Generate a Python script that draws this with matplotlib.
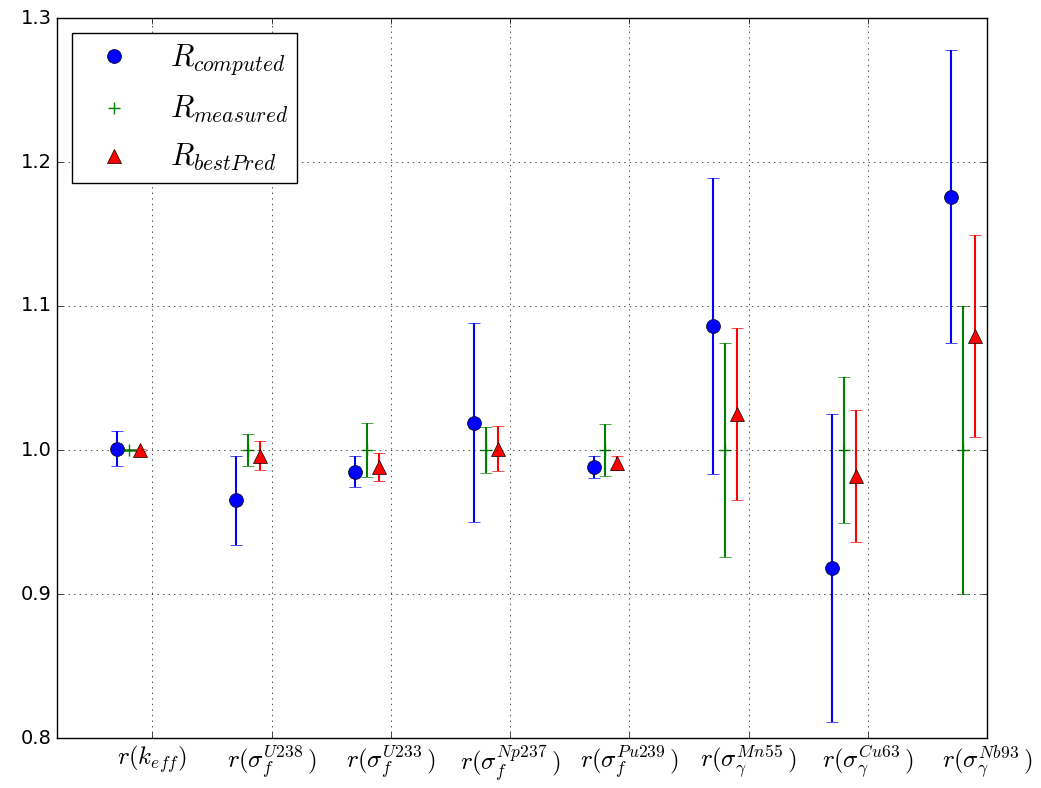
import numpy as np
import matplotlib
matplotlib.use("Agg")
import matplotlib.pyplot as plt

plt.style.use("classic")
plt.rcParams["mathtext.fontset"] = "cm"

# ratios per quantity
labels = [r"$r(k_{eff})$",
          r"$r(\sigma_f^{U238}\,)$",
          r"$r(\sigma_f^{U233}\,)$",
          r"$r(\sigma_f^{Np237}\,)$",
          r"$r(\sigma_f^{Pu239}\,)$",
          r"$r(\sigma_\gamma^{Mn55}\,)$",
          r"$r(\sigma_\gamma^{Cu63}\,)$",
          r"$r(\sigma_\gamma^{Nb93}\,)$"]

r_computed = [1.001, 0.965, 0.985, 1.019, 0.988, 1.086, 0.918, 1.176]
err_computed = [0.012, 0.031, 0.0105, 0.069, 0.0075, 0.103, 0.107, 0.102]

r_measured = [1.0, 1.0, 1.0, 1.0, 1.0, 1.0, 1.0, 1.0]
err_measured = [0.001, 0.011, 0.019, 0.016, 0.018, 0.074, 0.051, 0.100]

r_pred = [1.0, 0.996, 0.988, 1.001, 0.991, 1.025, 0.982, 1.079]
err_pred = [0.0005, 0.010, 0.0097, 0.0155, 0.005, 0.060, 0.046, 0.070]

x = np.arange(1, len(labels) + 1)

fig = plt.figure(figsize=(10.41, 7.88), dpi=100, facecolor="white")
ax = fig.add_axes([57/1041., 50/788., 930/1041., 720/788.])

ax.errorbar(x - 0.3, r_computed, yerr=err_computed, fmt="none", ecolor="b",
            elinewidth=1.5, capsize=4.5)
ax.errorbar(x - 0.2, r_measured, yerr=err_measured, fmt="none", ecolor="g",
            elinewidth=1.5, capsize=4.5)
ax.errorbar(x - 0.1, r_pred, yerr=err_pred, fmt="none", ecolor="r",
            elinewidth=1.5, capsize=4.5)

ax.plot(x - 0.3, r_computed, "o", color="b", mec="k", ms=10, label=r"$R_{computed}$")
ax.plot(x - 0.2, r_measured, "+", color="g", mew=1, ms=8, label=r"$R_{measured}$")
ax.plot(x - 0.1, r_pred, "^", color="r", mec="k", ms=10, label=r"$R_{bestPred}$")

ax.set_xlim(0.2, 8)
ax.set_ylim(0.8, 1.3)
ax.set_xticks(x)
ax.set_xticklabels(labels, fontsize=18)
ax.set_yticks(np.arange(0.8, 1.31, 0.1))
ax.tick_params(axis="y", labelsize=14)
ax.grid(True, linestyle=":", color="k")

ax.legend(loc="upper left", numpoints=1, fontsize=22, labelspacing=0.55,
          handlelength=2.1, handletextpad=0.8, borderpad=0.3)

fig.savefig("out.png", dpi=100, facecolor="white")
